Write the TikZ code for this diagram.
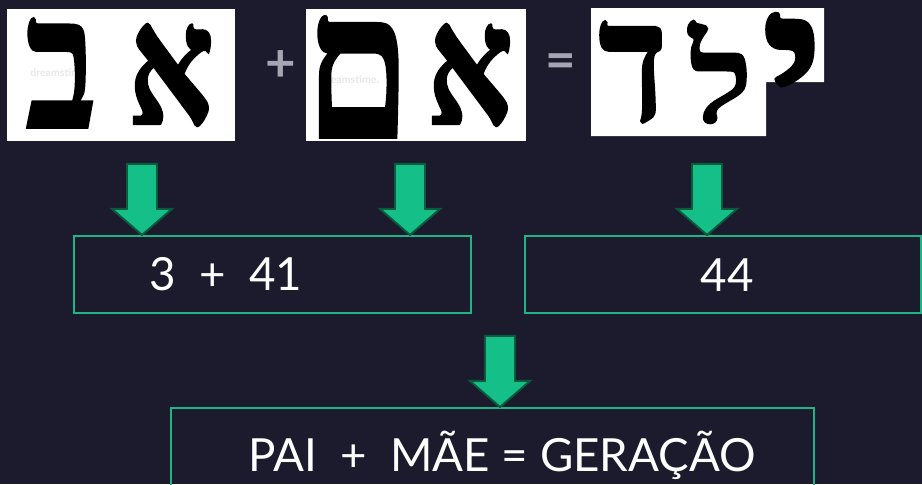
\documentclass[tikz,border=0pt]{standalone}
\usepackage{fontspec}
\setmainfont{Lato}
\newfontfamily\hebfont[Script=Hebrew, BoldFeatures={FakeBold=1.5}]{Liberation Serif}
\TeXXeTstate=1
\usetikzlibrary{positioning}
\definecolor{slidebg}{RGB}{28,27,46}
\definecolor{arrowfill}{RGB}{20,192,136}
\definecolor{arrowedge}{RGB}{10,90,62}
\definecolor{boxline}{RGB}{30,180,132}
\definecolor{signgray}{RGB}{165,165,180}
\definecolor{wmark}{RGB}{232,232,232}
\tikzset{
  letter/.style={inner sep=0, font=\hebfont\bfseries\fontsize{#1}{#1}\selectfont},
  sign/.style={inner sep=0, text=signgray, font=\bfseries\fontsize{30}{30}\selectfont},
  numbox/.style={draw=boxline, line width=1.2pt, minimum height=77*0.02cm},
  numtext/.style={inner sep=0, text=white, font=\fontsize{26}{26}\selectfont},
  wm/.style={inner sep=0, text=wmark, font=\bfseries\fontsize{6}{6}\selectfont},
  blockarrow/.style={fill=arrowfill, draw=arrowedge, line width=1.1pt, line join=miter}
}
\begin{document}
\begin{tikzpicture}[x=0.02cm,y=-0.02cm]
  \useasboundingbox (0,0) rectangle (922,484);
  \clip (0,0) rectangle (922,484);
  \fill[slidebg] (0,0) rectangle (922,484);
  % letter pictures
  \fill[white] (7,9) rectangle (235,141);
  \fill[white] (306,9) rectangle (526,141);
  \fill[white] (591,8) rectangle (766,136) (766,8) rectangle (824,82);
  \node[wm] (wa) at (58,73) {dreamstime};
  \node[wm] (wb) at (350,80) {dreamstime.};
  \node[wm, scale=0.6] (wc) at (797,47) {dreamstime};
  %      x   y  size xs  ys  anchor letter
  \foreach \x/\y/\s/\xs/\ys/\a/\h [count=\i from 1] in
    {61/73/96/0.88/1.1/center/ב,171/75/96/0.8/1.0/center/א,
     358/77/96/1.0/1.22/center/ם,470/75/96/0.8/1.0/center/א,
     793/13/116/1.2/1.0/north/י,721/72/70/1.1/1.0/center/ל,633/72/96/0.85/1.0/center/ד}
    {\node[letter=\s, anchor=\a] (h\i) at (\x,\y) {\scalebox{\xs}[\ys]{\beginR\h\endR}};}
  \node[sign] (plus) at (281,66) {+};
  \node[sign] (eq) at (561,66) {=};
  % value boxes
  \node[numbox, minimum width=397*0.02cm] (sum) at (272.5,274.5) {};
  \node[numbox, minimum width=396*0.02cm] (total) at (723,274.5) {};
  \node[numbox, minimum width=643*0.02cm, minimum height=140*0.02cm] (result) at (492.5,478) {};
  \node[numtext, right=1.52cm of sum.west] (sumtext) {3\ \ +\ \ 41};
  \node[numtext] (totaltext) at (727,275) {44};
  \node[numtext] (resulttext) at (502,455) {PAI\ \ +\ \ MÃE = GERAÇÃO};
  \foreach \ax/\b in {142/sum,410/sum,707/total,500/result}
    \draw[blockarrow] (\ax,0 |- \b.north) -- ++(30,-26) -- ++(-15,0) -- ++(0,-45) -- ++(-30,0) -- ++(0,45) -- ++(-15,0) -- cycle;
\end{tikzpicture}
\end{document}
